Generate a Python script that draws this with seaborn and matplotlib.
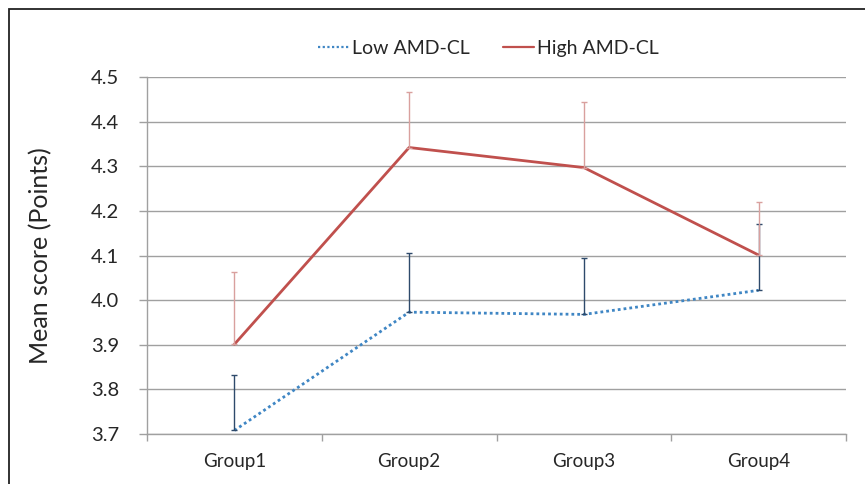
import numpy as np
import pandas as pd
import seaborn as sns
import matplotlib.pyplot as plt
from matplotlib.patches import Rectangle

groups = ['Group1', 'Group2', 'Group3', 'Group4']
low_mean = [3.708, 3.973, 3.968, 4.022]
low_err = [0.125, 0.133, 0.127, 0.148]
high_mean = [3.901, 4.342, 4.297, 4.101]
high_err = [0.162, 0.125, 0.146, 0.118]
series = ['Low AMD-CL', 'High AMD-CL']
yticks = [3.7, 3.8, 3.9, 4.0, 4.1, 4.2, 4.3, 4.4, 4.5]

sns.set_theme(style='white')
plt.rcParams['font.family'] = ['Lato', 'DejaVu Sans']

df = pd.DataFrame({
    'group': groups * 2,
    'score': low_mean + high_mean,
    'series': [series[0]] * 4 + [series[1]] * 4,
})

fig = plt.figure(figsize=(8.65, 4.84), dpi=100)
ax = fig.add_axes([147 / 865, 1 - 434 / 484, (846 - 147) / 865, (434 - 77) / 484])

# outer frame (only top and left visible in the original)
fig.patches.append(Rectangle((9 / 865, -0.1), 1.2, 1.1 - 9 / 484,
                             transform=fig.transFigure, fill=False,
                             edgecolor='#222222', lw=1.3))

pal = {series[0]: '#3F86C4', series[1]: '#C0504D'}
sns.lineplot(data=df, x='group', y='score', hue='series', style='series',
             palette=pal, dashes={series[0]: (1, 1.1), series[1]: ''},
             linewidth=2, ax=ax, legend=False)

x = np.arange(len(groups))
ax.errorbar(x, low_mean, yerr=[np.zeros(4), low_err], fmt='none',
            ecolor='#2E4A6B', elinewidth=1, capsize=2.5, capthick=1)
ax.errorbar(x, high_mean, yerr=[np.zeros(4), high_err], fmt='none',
            ecolor='#D9A09E', elinewidth=1, capsize=2.5, capthick=1)

ax.set_xlim(-0.5, 3.5)
ax.set_ylim(3.7, 4.5)
ax.set_yticks(yticks)
ax.set_yticklabels([f'{v:.1f}' for v in yticks], fontsize=14.5)
ax.set_xticks(x)
ax.set_xticklabels(groups, fontsize=13.5)
ax.set_xticks(np.arange(-0.5, 4, 1), minor=True)
ax.tick_params(axis='x', which='major', length=0, pad=14)
ax.tick_params(axis='x', which='minor', length=5, color='#A0A0A0', width=1,
               direction='out', bottom=True)
ax.tick_params(axis='y', length=6, color='#A0A0A0', width=1, pad=14,
               direction='out', left=True)
ax.grid(axis='y', color='#A0A0A0', lw=1)
ax.set_axisbelow(True)
for s in ['top', 'right']:
    ax.spines[s].set_visible(False)
for s in ['left', 'bottom']:
    ax.spines[s].set_color('#A0A0A0')
    ax.spines[s].set_linewidth(1)
ax.set_xlabel('')
ax.set_ylabel('Mean score (Points)', fontsize=18, labelpad=28)

handles = [plt.Line2D([], [], color=pal[series[0]], lw=1.6, dashes=(1, 1.1)),
           plt.Line2D([], [], color=pal[series[1]], lw=1.6)]
fig.legend(handles, series, loc='center', bbox_to_anchor=(0.565, 0.9),
           ncol=2, frameon=False, fontsize=14, handlelength=1.6,
           handletextpad=0.15, columnspacing=1.7)

fig.savefig('out.png', dpi=100)
